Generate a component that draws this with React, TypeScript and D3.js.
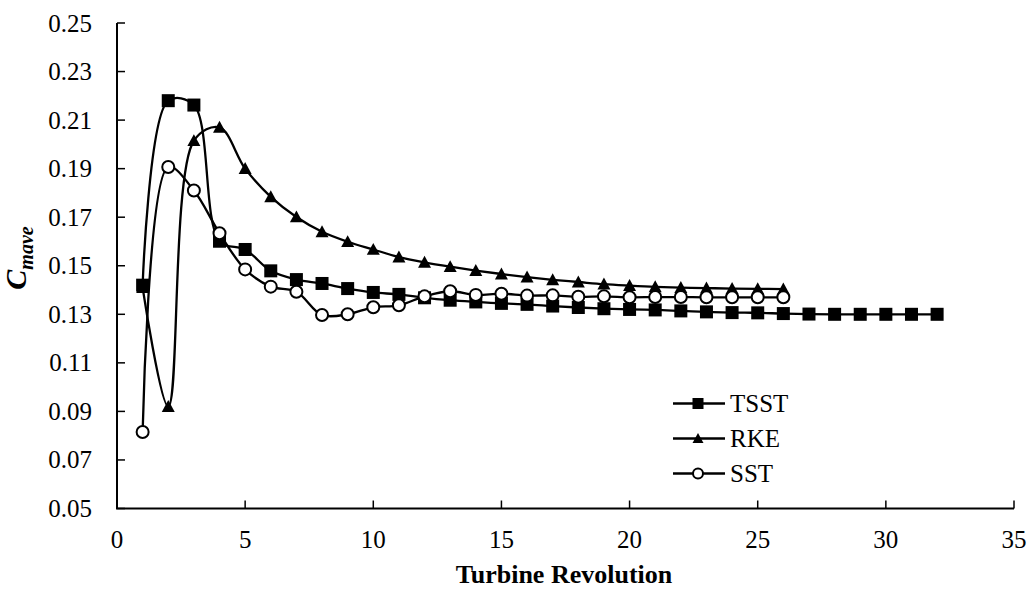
import React from "react";
import * as d3 from "d3";

const revolutions = d3.range(1, 33);
const tsst = [0.142, 0.218, 0.2162, 0.1601, 0.1567, 0.1479, 0.1443, 0.1427, 0.1406, 0.139, 0.1382, 0.1368, 0.1358, 0.1351, 0.1345, 0.1341, 0.1334, 0.1328, 0.1323, 0.132, 0.1318, 0.1314, 0.131, 0.1307, 0.1306, 0.1303, 0.1301, 0.13, 0.13, 0.13, 0.13, 0.13];
const rke = [0.141, 0.092, 0.2015, 0.207, 0.19, 0.1784, 0.1701, 0.164, 0.1599, 0.1567, 0.1536, 0.1514, 0.1496, 0.148, 0.1466, 0.1453, 0.1442, 0.1433, 0.1424, 0.1418, 0.1413, 0.141, 0.1408, 0.1406, 0.1405, 0.1404];
const sst = [0.0815, 0.1907, 0.181, 0.1634, 0.1485, 0.1414, 0.1393, 0.1297, 0.13, 0.1329, 0.1337, 0.1374, 0.1395, 0.138, 0.1385, 0.1377, 0.1378, 0.1372, 0.1374, 0.137, 0.1371, 0.1371, 0.137, 0.137, 0.137, 0.137];
const seriesNames = ["TSST", "RKE", "SST"];
const xTicks = [0, 5, 10, 15, 20, 25, 30, 35];
const yTicks = [0.05, 0.07, 0.09, 0.11, 0.13, 0.15, 0.17, 0.19, 0.21, 0.23, 0.25];

const W = 1030, H = 590;
const FONT = "Liberation Serif, Times New Roman, serif";

function Marker({ type, x, y, s }: { type: string; x: number; y: number; s: number }) {
  if (type === "TSST") return <rect x={x - s / 2} y={y - s / 2} width={s} height={s} fill="#000" />;
  if (type === "RKE") {
    const h = s * 0.92;
    return <path d={`M${x},${y - h * 0.55}L${x + s / 2},${y + h * 0.45}L${x - s / 2},${y + h * 0.45}Z`} fill="#000" />;
  }
  return <circle cx={x} cy={y} r={s / 2 - 0.5} fill="#fff" stroke="#000" strokeWidth={2} />;
}

export default function App() {
  const x = d3.scaleLinear().domain([0, 35]).range([117, 1014]);
  const y = d3.scaleLinear().domain([0.05, 0.25]).range([508.5, 23]);
  const series = [
    { name: "TSST", values: tsst },
    { name: "RKE", values: rke },
    { name: "SST", values: sst },
  ];
  const line = d3
    .line<number>()
    .x((_, i) => x(revolutions[i]))
    .y((d) => y(d))
    .curve(d3.curveCatmullRom.alpha(0.5));

  return (
    <svg width={W} height={H} style={{ position: "absolute", left: 0, top: 0, background: "#fff", fontFamily: FONT }}>
      <rect width={W} height={H} fill="#fff" />
      <line x1={x(0)} x2={x(0)} y1={y(0.25)} y2={y(0.05)} stroke="#000" strokeWidth={2} />
      <line x1={x(0) - 1} x2={x(35)} y1={y(0.05)} y2={y(0.05)} stroke="#000" strokeWidth={2} />
      {yTicks.map((t) => (
        <g key={t}>
          <line x1={x(0)} x2={x(0) + 8} y1={y(t)} y2={y(t)} stroke="#000" strokeWidth={1.5} />
          <text x={92} y={y(t)} dy="0.34em" textAnchor="end" fontSize={25} style={{ fontFamily: FONT }}>
            {t.toFixed(2)}
          </text>
        </g>
      ))}
      {xTicks.map((t) => (
        <g key={t}>
          <line x1={x(t)} x2={x(t)} y1={y(0.05)} y2={y(0.05) - 8} stroke="#000" strokeWidth={1.5} />
          <text x={x(t)} y={548} textAnchor="middle" fontSize={25} style={{ fontFamily: FONT }}>
            {t}
          </text>
        </g>
      ))}
      <text x={564} y={583} textAnchor="middle" fontSize={26} fontWeight="bold" style={{ fontFamily: FONT }}>
        Turbine Revolution
      </text>
      <text transform="translate(26,258) rotate(-90)" textAnchor="middle" fontWeight="bold" fontStyle="italic" style={{ fontFamily: FONT }}>
        <tspan fontSize={30}>C</tspan>
        <tspan fontSize={20} dy={7}>mave</tspan>
      </text>
      {series.map((s) => (
        <g key={s.name}>
          <path d={line(s.values) || ""} fill="none" stroke="#000" strokeWidth={2.3} />
          {s.values.map((v, i) => (
            <Marker key={i} type={s.name} x={x(revolutions[i])} y={y(v)} s={13} />
          ))}
        </g>
      ))}
      {seriesNames.map((n, i) => {
        const ly = 403.5 + i * 35;
        return (
          <g key={n}>
            <line x1={673} x2={725} y1={ly} y2={ly} stroke="#000" strokeWidth={2.3} />
            <Marker type={n} x={698} y={ly} s={11} />
            <text x={730} y={ly} dy="0.35em" fontSize={25} style={{ fontFamily: FONT }}>
              {n}
            </text>
          </g>
        );
      })}
    </svg>
  );
}
